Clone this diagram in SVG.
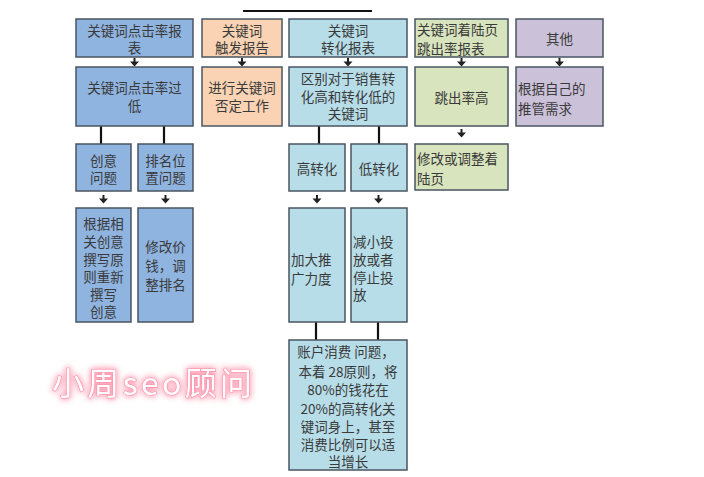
<svg xmlns="http://www.w3.org/2000/svg" width="704" height="477" viewBox="0 0 704 477">
<defs>
<style>
.box{stroke:#4a5560;stroke-width:1.5}
.blue{fill:#8fb4e0}
.peach{fill:#f9d3b3}
.cyan{fill:#b7dde8}
.green{fill:#d8e4bd}
.lav{fill:#cbc1d9}
text{font-family:"Noto Sans CJK SC","Noto Sans",sans-serif;font-size:13.5px;fill:#3a3a3a}
.c{text-anchor:middle}
.ln{stroke:#111;stroke-width:2.2;fill:none}
.ar{fill:#222}
.wm{font-size:32px;fill:#fff;stroke:#ff8fa8;stroke-width:1.2;paint-order:stroke}
</style>
<filter id="glow" x="-20%" y="-50%" width="140%" height="200%">
<feGaussianBlur in="SourceAlpha" stdDeviation="3" result="b"/>
<feFlood flood-color="#ff9fb4"/>
<feComposite in2="b" operator="in" result="g"/>
<feMerge><feMergeNode in="g"/><feMergeNode in="g"/><feMergeNode in="SourceGraphic"/></feMerge>
</filter>
</defs>
<rect width="704" height="477" fill="#fff"/>

<g id="connectors">
<line class="ln" x1="243" y1="11" x2="372" y2="11"/>
<line class="ln" x1="101" y1="126" x2="101" y2="144"/>
<line class="ln" x1="164" y1="126" x2="164" y2="144"/>
<line class="ln" x1="319" y1="126" x2="319" y2="144"/>
<line class="ln" x1="379" y1="126" x2="379" y2="144"/>
<line class="ln" x1="316" y1="322" x2="316" y2="340"/>
<line class="ln" x1="378" y1="322" x2="378" y2="340"/>
<g class="ar">
<path d="M133.5,58h2v3.5h3.5l-4.5,5l-4.5,-5h3.5z"/>
<path d="M241,58h2v3.5h3.5l-4.5,5l-4.5,-5h3.5z"/>
<path d="M347,58h2v3.5h3.5l-4.5,5l-4.5,-5h3.5z"/>
<path d="M460.5,58h2v3.5h3.5l-4.5,5l-4.5,-5h3.5z"/>
<path d="M558.5,58h2v3.5h3.5l-4.5,5l-4.5,-5h3.5z"/>
<path d="M460.5,129h2v3.5h3.5l-4.5,5l-4.5,-5h3.5z"/>
<path d="M102.5,195h2v3.5h3.5l-4.5,5l-4.5,-5h3.5z"/>
<path d="M164.5,195h2v3.5h3.5l-4.5,5l-4.5,-5h3.5z"/>
<path d="M316,195h2v3.5h3.5l-4.5,5l-4.5,-5h3.5z"/>
<path d="M377.5,195h2v3.5h3.5l-4.5,5l-4.5,-5h3.5z"/>
</g>
</g>

<g id="n-a1"><rect class="box blue" x="76" y="19" width="117" height="38"/>
<text class="c" x="134.5" y="36">关键词点击率报</text><text class="c" x="134.5" y="53">表</text></g>
<g id="n-b1"><rect class="box peach" x="202" y="19" width="80" height="38"/>
<text class="c" x="242" y="36">关键词</text><text class="c" x="242" y="53">触发报告</text></g>
<g id="n-c1"><rect class="box cyan" x="289" y="19" width="118" height="38"/>
<text class="c" x="348" y="36">关键词</text><text class="c" x="348" y="53">转化报表</text></g>
<g id="n-d1"><rect class="box green" x="415" y="19" width="93" height="38"/>
<text x="417" y="35">关键词着陆页</text><text x="417" y="54">跳出率报表</text></g>
<g id="n-e1"><rect class="box lav" x="516" y="19" width="87" height="38"/>
<text class="c" x="559.5" y="44">其他</text></g>

<g id="n-a2"><rect class="box blue" x="76" y="67" width="117" height="59"/>
<text class="c" x="134.5" y="93">关键词点击率过</text><text class="c" x="134.5" y="111">低</text></g>
<g id="n-b2"><rect class="box peach" x="202" y="67" width="80" height="59"/>
<text class="c" x="242" y="93">进行关键词</text><text class="c" x="242" y="111">否定工作</text></g>
<g id="n-c2"><rect class="box cyan" x="289" y="67" width="118" height="59"/>
<text class="c" x="348" y="84">区别对于销售转</text><text class="c" x="348" y="101.5">化高和转化低的</text><text class="c" x="348" y="119">关键词</text></g>
<g id="n-d2"><rect class="box green" x="415" y="67" width="93" height="59"/>
<text class="c" x="461.5" y="103">跳出率高</text></g>
<g id="n-e2"><rect class="box lav" x="516" y="67" width="87" height="59"/>
<text x="518" y="94">根据自己的</text><text x="518" y="114">推管需求</text></g>

<g id="n-d3"><rect class="box green" x="415" y="144" width="93" height="46"/>
<text x="417" y="164">修改或调整着</text><text x="417" y="184">陆页</text></g>

<g id="n-a3a"><rect class="box blue" x="76" y="144" width="55" height="47"/>
<text class="c" x="103.5" y="166">创意</text><text class="c" x="103.5" y="183">问题</text></g>
<g id="n-a3b"><rect class="box blue" x="138" y="144" width="55" height="47"/>
<text class="c" x="165.5" y="166">排名位</text><text class="c" x="165.5" y="183">置问题</text></g>
<g id="n-c3a"><rect class="box cyan" x="289" y="144" width="56" height="47"/>
<text class="c" x="317" y="174">高转化</text></g>
<g id="n-c3b"><rect class="box cyan" x="351" y="144" width="56" height="47"/>
<text class="c" x="379" y="174">低转化</text></g>

<g id="n-a4a"><rect class="box blue" x="76" y="208" width="55" height="114"/>
<text class="c" x="103.5" y="229">根据相</text><text class="c" x="103.5" y="247">关创意</text><text class="c" x="103.5" y="265">撰写原</text><text class="c" x="103.5" y="282">则重新</text><text class="c" x="103.5" y="300">撰写</text><text class="c" x="103.5" y="317">创意</text></g>
<g id="n-a4b"><rect class="box blue" x="138" y="208" width="55" height="114"/>
<text class="c" x="165.5" y="252">修改价</text><text class="c" x="165.5" y="271">钱，调</text><text class="c" x="165.5" y="290">整排名</text></g>
<g id="n-c4a"><rect class="box cyan" x="289" y="208" width="56" height="114"/>
<text x="291" y="265">加大推</text><text x="291" y="284">广力度</text></g>
<g id="n-c4b"><rect class="box cyan" x="351" y="208" width="56" height="114"/>
<text x="353" y="247">减小投</text><text x="353" y="265">放或者</text><text x="353" y="283">停止投</text><text x="353" y="300">放</text></g>

<g id="n-c5"><rect class="box cyan" x="289" y="340" width="118" height="130"/>
<text class="c" x="346" y="357">账户消费 问题，</text>
<text class="c" x="348" y="377">本着 28原则，将</text>
<text class="c" x="348" y="395">80%的钱花在</text>
<text class="c" x="348" y="414">20%的高转化关</text>
<text class="c" x="348" y="432">键词身上，甚至</text>
<text class="c" x="348" y="450">消费比例可以适</text>
<text class="c" x="348" y="467">当增长</text></g>

<g id="watermark" filter="url(#glow)">
<text class="wm" x="52" y="395" textLength="200" lengthAdjust="spacing">小周seo顾问</text>
</g>
</svg>
